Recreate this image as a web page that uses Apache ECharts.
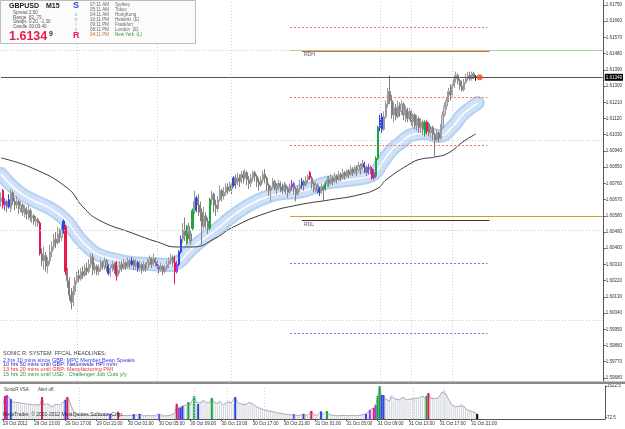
<!DOCTYPE html>
<html><head><meta charset="utf-8">
<script src="https://cdn.jsdelivr.net/npm/echarts@6/dist/echarts.min.js"></script>
<style>html,body{margin:0;padding:0;background:#fff}#c{width:625px;height:429px}</style>
</head><body><div id="c"></div>
<script>
// ---- DATA ----
// M15 bars, [open, close, low, high] in pips above 1.60000
const ohlcPips = [
[66,68,63,71],[72,64,62,73],[64,66,61,68],[66,63,60,67],[63,67,62,70],[62,71,60,73],[71,66,64,72],[66,64,61,68],[64,66,62,69],[66,62,59,67],
[62,64,60,66],[64,60,58,65],[60,62,57,64],[62,59,56,63],[59,61,56,64],[61,57,55,62],[57,58,54,61],[58,55,53,59],[55,56,52,58],[56,54,52,57],
[54,37,36,55],[37,33,30,40],[33,36,28,41],[36,30,27,38],[30,33,26,35],[33,38,31,42],[38,41,35,44],[41,45,39,48],[45,43,40,49],[43,48,42,52],
[48,46,43,51],[46,50,44,53],[50,55,48,56],[52,27,25,53],[27,22,18,29],[22,14,11,24],[14,10,6,18],[10,16,8,19],[16,22,14,24],[22,25,20,27],
[25,23,21,28],[23,27,22,29],[27,25,23,30],[25,29,24,31],[29,27,25,32],[27,31,26,34],[31,35,29,37],[35,28,25,37],[28,30,26,32],[30,27,25,31],
[27,29,25,31],[29,32,27,34],[32,30,28,33],[30,33,28,35],[33,29,27,34],[30,26,25,31],[26,29,24,30],[29,31,27,33],[31,28,26,32],[32,25,22,33],
[25,28,24,30],[28,31,26,33],[31,29,27,33],[29,32,28,34],[32,30,28,33],[30,33,29,35],[33,31,29,34],[31,33,30,35],[33,30,28,34],[30,32,28,34],
[32,29,27,33],[29,31,27,33],[31,28,26,32],[28,31,27,33],[31,29,27,32],[29,32,28,34],[32,34,30,36],[34,31,29,35],[31,34,30,37],[34,32,30,35],
[32,30,28,33],[30,28,26,31],[28,30,27,32],[30,27,25,31],[27,29,26,31],[29,31,28,33],[31,33,29,35],[33,35,31,37],[35,32,30,36],[32,27,20,36],
[27,31,26,33],[31,38,30,39],[38,45,37,47],[45,50,43,54],[50,47,44,57],[43,52,42,53],[52,48,45,54],[48,44,42,50],[51,61,50,62],[61,66,59,72],
[61,68,60,69],[68,64,58,70],[64,60,55,66],[60,52,42,62],[52,58,50,63],[58,55,51,60],[55,51,48,57],[51,67,50,68],[67,70,64,72],[70,64,60,71],
[64,62,58,67],[62,67,60,69],[67,72,66,75],[72,69,66,73],[69,71,67,74],[71,74,69,76],[74,72,70,76],[72,75,71,77],[75,73,70,76],[75,79,74,80],
[79,76,73,81],[76,79,75,82],[79,77,74,81],[77,81,76,83],[81,79,76,83],[79,82,78,84],[82,78,75,83],[78,76,73,80],[76,79,74,81],[79,82,77,83],
[82,80,77,83],[80,77,74,81],[77,75,72,79],[75,78,74,80],[78,81,76,83],[81,79,76,84],[79,75,72,80],[75,72,69,76],[72,74,66,75],[74,77,73,79],
[77,75,72,78],[75,73,70,76],[73,76,72,78],[76,74,71,77],[74,72,70,76],[72,75,71,77],[75,73,70,76],[73,71,68,74],[71,74,70,76],[74,76,72,78],
[76,73,70,77],[73,70,66,74],[70,73,69,75],[73,75,71,78],[75,77,73,79],[77,75,72,78],[75,78,74,80],[78,80,76,81],[82,79,78,83],[79,76,73,80],
[76,73,71,77],[73,75,71,77],[75,72,70,76],[73,71,69,74],[71,74,70,76],[74,72,66,75],[73,76,72,77],[76,78,74,80],[78,76,74,80],[76,79,75,81],
[79,77,75,80],[77,80,76,82],[80,78,76,81],[78,81,77,83],[81,79,77,82],[79,82,78,84],[82,80,78,83],[80,83,79,84],[83,81,79,84],[81,84,80,86],
[84,82,80,85],[82,85,81,86],[85,83,80,86],[83,86,82,88],[86,84,81,87],[84,87,83,89],[87,85,82,88],[85,82,80,86],[82,85,81,87],[85,84,81,86],
[84,79,78,85],[79,82,78,84],[80,90,79,91],[90,107,89,108],[107,112,105,114],[113,106,104,115],[106,113,105,116],[113,120,112,122],[120,127,118,129],[127,122,120,136],
[122,114,112,125],[114,118,110,121],[118,113,111,120],[113,119,112,122],[119,116,113,121],[116,120,114,122],[120,114,111,121],[114,117,110,119],[117,112,110,118],[112,116,111,118],
[116,110,108,117],[110,114,107,115],[114,108,106,115],[108,112,105,114],[112,107,104,113],[107,110,104,112],[110,106,103,111],[104,110,102,111],[110,105,103,111],[109,104,102,110],
[104,107,101,108],[107,103,100,108],[103,100,91,104],[100,104,99,106],[104,101,99,105],[101,107,100,109],[107,114,106,116],[114,119,113,121],[119,122,117,124],[122,127,121,129],
[127,125,122,131],[125,130,124,132],[130,134,129,136],[134,136,132,138],[136,133,131,137],[133,130,128,134],[130,128,127,133],[128,132,127,134],[132,134,131,137],[134,136,133,138],
[136,134,133,138],[134,137,133,138],[137,135,134,138],[135,135,133,136]
];
// tick volume per bar
const volumes = [
700,1060,1106,1014,920,780,700,760,690,740,
650,700,620,680,720,650,600,660,700,640,
1014,650,600,700,640,560,620,680,600,650,
720,800,880,1014,850,600,380,230,200,180,
170,190,160,180,150,170,190,160,150,170,
180,160,150,170,160,230,150,170,170,330,
150,170,160,140,160,150,170,230,160,150,
230,160,140,150,160,140,150,160,150,140,
230,150,140,160,150,170,180,200,250,700,
500,520,600,560,640,780,650,700,1060,760,
690,740,830,860,760,700,740,970,800,740,
700,830,760,650,700,780,860,740,700,1014,
780,700,690,740,650,700,760,780,700,620,
560,520,480,450,420,400,380,360,340,320,
300,280,260,250,230,220,210,190,180,230,
170,180,160,170,230,170,160,180,370,200,
180,170,190,350,200,190,370,200,180,170,
160,150,170,160,150,170,160,150,160,170,
160,150,170,180,190,200,230,300,420,360,
510,650,1060,1521,1106,1106,920,880,830,1060,
970,920,960,880,930,1000,920,880,830,920,
1000,940,900,960,1000,1060,960,1060,1200,960,
1000,940,900,960,1100,1250,1337,1150,960,800,
650,600,560,530,600,690,600,480,420,380,
360,330,300,230
];
// VSA signal bars: [bar index, kind]
const signals = [[1,'r'],[2,'p'],[4,'b'],[20,'r'],[32,'b'],[33,'r'],[55,'b'],[59,'r'],[67,'b'],[70,'b'],[80,'p'],
[89,'r'],[90,'p'],[91,'b'],[92,'b'],[95,'g'],[98,'g'],[100,'b'],[107,'g'],[119,'b'],[149,'p'],[154,'b'],[158,'r'],
[163,'b'],[166,'g'],[186,'b'],[188,'p'],[190,'r'],[191,'p'],[192,'g'],[193,'g'],[194,'b'],[195,'b'],[217,'g'],[218,'r'],[243,'k']];
// Sonic R dragon band centre, [bar index, pips]
const bandPts = [[0,81.2],[8,72.3],[16,66.8],[25,62.3],[30,58.5],[34,54.6],[37,50.2],[40,45.7],[45,40.2],[50,36.3],[59,33.5],
[67,31.8],[76,31.3],[85,30.7],[91,32.4],[96,37.9],[101,42.9],[110,50.2],[118,57.4],[127,64.0],[136,68.5],[144,70.7],[152,71.2],
[166,76.2],[178,77.9],[190,80.7],[195,87.3],[200,94.5],[205,99.0],[210,102.9],[217,104.0],[224,102.3],[231,107.3],[236,114.0],[241,118.4],[244,120.6]];
// slow moving average, [bar index, pips]
const maPts = [[0,90.1],[16,84.5],[34,73.4],[42,62.9],[50,55.7],[67,48.5],[80,43.5],[90,40.7],[98,40.7],[110,45.7],[118,51.3],
[136,59.6],[152,64.0],[168,66.8],[183,69.6],[193,73.4],[197,77.9],[210,87.3],[215,89.5],[222,90.6],[229,92.9],[237,99.5],[243,103.4]];
const timeLabels = ['29 Oct 2012','29 Oct 13:00','29 Oct 17:00','29 Oct 21:00','30 Oct 01:00','30 Oct 05:00','30 Oct 09:00',
'30 Oct 13:00','30 Oct 17:00','30 Oct 21:00','31 Oct 01:00','31 Oct 05:00','31 Oct 09:00','31 Oct 13:00','31 Oct 17:00','31 Oct 21:00'];
const priceTicks = [1.5968,1.5977,1.5986,1.5995,1.6004,1.6013,1.6022,1.6031,1.6040,1.6049,1.6058,1.6067,1.6076,1.6085,
1.6094,1.6103,1.6112,1.6121,1.6130,1.6139,1.6148,1.6157,1.6166,1.6175];
const volumeTicks = [72.5, 1522.5];
const bidPrice = 1.61349;
const roundLevels = [1.6150, 1.6100, 1.6050, 1.6000];
const redPivots = [1.61628, 1.61239, 1.60973];
const bluePivots = [1.60318, 1.59930];
const rdhPrice = 1.61500, rdhLine2 = 1.61495, rdlPrice = 1.60579, rdlLine2 = 1.60557;

// ---- CHART ----
const SLOTS = 309, TICK_EVERY = 16, LAST = SLOTS - 1;
const FONT = 'Liberation Sans, Arial, sans-serif';
const COLORS = { r: '#e8194b', b: '#2f45e0', g: '#17a83a', p: '#9a3cf0', k: '#000000' };
const toP = v => +(1.6 + v / 10000).toFixed(5);
const sigMap = {}; signals.forEach(([i, k]) => sigMap[i] = k);
const cats = [];
for (let i = 0; i < SLOTS; i++) cats.push(i % TICK_EVERY === 0 && i / TICK_EVERY < timeLabels.length ? timeLabels[i / TICK_EVERY] : ' ' + i);

const candles = ohlcPips.map((b, i) => {
  const k = sigMap[i];
  const it = { value: b.map(toP) };
  if (k) it.itemStyle = { color: COLORS[k], color0: COLORS[k], borderColor: COLORS[k], borderColor0: COLORS[k] };
  return it;
});
const volGray = volumes.slice();
const volSig = volumes.map((v, i) => sigMap[i] ? { value: v, itemStyle: { color: COLORS[sigMap[i]] } } : '-');
const band = bandPts.map(([i, v]) => [i, toP(v)]);
const ma = maPts.map(([i, v]) => [i, toP(v)]);

const hline = (p, a, b, color, type, label) => [
  { coord: [a, p], lineStyle: { color, type, width: 1 }, label: label || { show: false } }, { coord: [b, p] }];
const ML = [];
roundLevels.forEach(p => ML.push(hline(p, 0, LAST, '#c3cadb', [1, 2])));
[39, 80, 118, 194, 210, 231].forEach(x => ML.push({ xAxis: x, lineStyle: { color: '#c6cddd', type: [1, 2], width: 1 } }));
redPivots.forEach(p => ML.push(hline(p, 148, 249, '#f07060', [2, 2])));
bluePivots.forEach(p => ML.push(hline(p, 148, 249, '#6a78e6', [2, 2])));
ML.push(hline(rdhPrice, 148, LAST, '#9fd89f', 'solid'));
ML.push(hline(rdhLine2, 154, 250, '#f05a30', 'solid'));
ML.push(hline(rdlPrice, 148, LAST, '#c8a422', 'solid'));
ML.push(hline(rdlLine2, 154, 250, '#5a2a2a', 'solid'));
ML.push(hline(bidPrice, 0, LAST, '#555555', 'solid',
  { show: true, position: 'end', formatter: bidPrice.toFixed(5), backgroundColor: '#000', color: '#fff',
    fontSize: 4.5, fontFamily: FONT, padding: [1, 1, 1, 1], distance: 2 }));

const T = (text, x, y, size, color, weight) => ({ type: 'text', silent: true, z: 100,
  style: { text, x, y, fill: color || '#404040', font: (weight || 'normal') + ' ' + size + 'px ' + FONT, verticalAlign: 'middle', align: 'left' } });

const gfx = [
  { type: 'rect', silent: true, z: 99, shape: { x: 0.5, y: 0.5, width: 195, height: 43 }, style: { fill: '#fbfbfb', stroke: '#bdbdbd', lineWidth: 1 } },
  T('GBPUSD', 9, 6, 7, '#202020', 'bold'), T('M15', 46, 6, 7, '#202020', 'bold'),
  T('Spread', 13, 12.7, 4.5, '#555'), T('2.50', 29, 12.7, 4.5, '#555'),
  T('Range', 13, 17.3, 4.5, '#555'), T('82, 79', 29, 17.3, 4.5, '#555'),
  T('Swaps', 13, 22, 4.5, '#555'), T('0.20, -1.30', 29, 22, 4.5, '#555'),
  T('Candle', 13, 27, 4.5, '#555'), T('00:03:40', 29, 27, 4.5, '#555'),
  T('1.6134', 9, 37, 12.5, '#e8194b', 'bold'), T('9', 49, 34, 7, '#303030', 'bold'),
  T('S', 73, 6, 9, '#2f45e0', 'bold'),
  T('o', 75, 15, 4.5, '#7f94c4'), T('n', 75, 20, 4.5, '#8f99b4'), T('i', 75.5, 25, 4.5, '#e0708e'), T('c', 75, 29.5, 4.5, '#e0708e'),
  T('R', 73, 36, 9, '#e8194b', 'bold'),
  T('07:11 AM', 90, 4.7, 4.5, '#666'), T('Sydney', 115, 4.7, 4.5, '#666'),
  T('05:11 AM', 90, 9.7, 4.5, '#666'), T('Tokyo', 115, 9.7, 4.5, '#666'),
  T('04:11 AM', 90, 14.7, 4.5, '#666'), T('HongKong', 115, 14.7, 4.5, '#666'),
  T('10:11 PM', 90, 19.7, 4.5, '#666'), T('Helsinki  (E)', 115, 19.7, 4.5, '#666'),
  T('09:11 PM', 90, 24.7, 4.5, '#666'), T('Frankfurt', 115, 24.7, 4.5, '#666'),
  T('08:11 PM', 90, 29.7, 4.5, '#666'), T('London  (E)', 115, 29.7, 4.5, '#666'),
  T('04:11 PM', 90, 35, 4.5, '#c07030'), T('New York  (L)', 115, 35, 4.5, '#2a9a3a'),
  T('SONIC R. SYSTEM  FFCAL HEADLINES:', 3, 353.3, 5.5, '#404040'),
  T('2 hrs 10 mins since GBP: MPC Member Bean Speaks', 3, 360, 5.5, '#3a3ae8'),
  T('10 hrs 50 mins until GBP: Nationwide HPI m/m', 3, 364.8, 5.5, '#2626b8'),
  T('13 hrs 20 mins until GBP: Manufacturing PMI', 3, 369.7, 5.5, '#e83040'),
  T('15 hrs 20 mins until USD : Challenger Job Cuts y/y', 3, 374.6, 5.5, '#2a9a2a'),
  T('RDH', 304, 55, 5, '#5a4a8a'), T('RDL', 304, 224.5, 5, '#5a4a8a'),
  T('SonicR VSA', 4, 390, 4.5, '#404040'), T('Alert off.', 38, 390, 4.5, '#404040'),
  T('MetaTrader, \u00a9 2001-2012 MetaQuotes Software Corp.', 3, 415, 5, '#303030'),
  { type: 'rect', silent: true, z: 98, shape: { x: 0, y: 381.5, width: 625, height: 2.5 }, style: { fill: '#8a8a8a' } }
];

const chart = echarts.init(document.getElementById('c'), null, { renderer: 'canvas' });
chart.setOption({
  animation: false,
  backgroundColor: '#ffffff',
  textStyle: { fontFamily: FONT },
  grid: [
    { left: 0, right: 20, top: 0, height: 381 },
    { left: 0, right: 20, top: 386, height: 33 }
  ],
  xAxis: [
    { type: 'category', gridIndex: 0, data: cats, boundaryGap: true, show: false },
    { type: 'category', gridIndex: 1, data: cats, boundaryGap: true,
      axisLine: { show: true, lineStyle: { color: '#555', width: 1 } },
      axisTick: { show: true, alignWithLabel: true, length: 2, interval: i => i % TICK_EVERY === 0 && i / TICK_EVERY < timeLabels.length, lineStyle: { color: '#555' } },
      axisLabel: { show: true, interval: i => i % TICK_EVERY === 0 && i / TICK_EVERY < timeLabels.length, align: 'left', margin: 2, fontSize: 4.5, color: '#303030', fontFamily: FONT },
      splitLine: { show: false } },
    { type: 'category', gridIndex: 1, data: cats, boundaryGap: true, show: false }
  ],
  yAxis: [
    { type: 'value', gridIndex: 0, position: 'right', min: 1.59663, max: 1.61778, scale: true,
      axisLine: { show: true, lineStyle: { color: '#555', width: 1 } },
      axisTick: { show: true, length: 2, customValues: priceTicks, lineStyle: { color: '#555' } },
      axisLabel: { show: true, customValues: priceTicks, formatter: v => v.toFixed(5), margin: 2, fontSize: 4.5, color: '#303030', fontFamily: FONT },
      splitLine: { show: false } },
    { type: 'value', gridIndex: 1, position: 'right', min: 0, max: 1522.5,
      axisLine: { show: true, lineStyle: { color: '#555', width: 1 } },
      axisTick: { show: true, length: 2, customValues: volumeTicks, lineStyle: { color: '#555' } },
      axisLabel: { show: true, customValues: volumeTicks, formatter: v => String(v), margin: 2, fontSize: 4.5, color: '#303030', fontFamily: FONT },
      splitLine: { show: false } }
  ],
  series: [
    { type: 'line', xAxisIndex: 0, yAxisIndex: 0, data: band, smooth: true, symbol: 'none', z: 1, lineStyle: { color: '#b6d0f2', width: 14, cap: 'round' } },
    { type: 'line', xAxisIndex: 0, yAxisIndex: 0, data: band, smooth: true, symbol: 'none', z: 1, lineStyle: { color: '#cfe1f8', width: 10, cap: 'round' } },
    { type: 'line', xAxisIndex: 0, yAxisIndex: 0, data: band, smooth: true, symbol: 'none', z: 1, lineStyle: { color: '#ffffff', width: 1.5 } },
    { type: 'line', xAxisIndex: 0, yAxisIndex: 0, data: ma, smooth: true, symbol: 'none', z: 2, lineStyle: { color: '#3a3a3a', width: 1 } },
    { type: 'candlestick', xAxisIndex: 0, yAxisIndex: 0, data: candles, z: 3, barWidth: 1.6,
      itemStyle: { color: '#d2d2d2', color0: '#a8a8a8', borderColor: '#9a9a9a', borderColor0: '#808080', borderWidth: 1 },
      markLine: { symbol: 'none', silent: true, animation: false, label: { show: false }, data: ML } },
    { type: 'scatter', xAxisIndex: 0, yAxisIndex: 0, data: [[245, bidPrice]], symbolSize: 6, z: 6, itemStyle: { color: '#f04812' } },
    { type: 'bar', xAxisIndex: 1, yAxisIndex: 1, data: volGray, barWidth: 1, z: 2, itemStyle: { color: '#d3d6de' },
      markLine: { symbol: 'none', silent: true, label: { show: false },
        data: [39, 98, 115, 134, 210, 226].map(x => ({ xAxis: x, lineStyle: { color: '#c6cddd', type: [1, 2], width: 1 } })) } },
    { type: 'line', xAxisIndex: 1, yAxisIndex: 1, data: volGray, symbol: 'none', z: 3, lineStyle: { color: '#a7abb8', width: 1 } },
    { type: 'bar', xAxisIndex: 2, yAxisIndex: 1, data: volSig, barWidth: 2, z: 4 }
  ],
  graphic: gfx
});
</script></body></html>
